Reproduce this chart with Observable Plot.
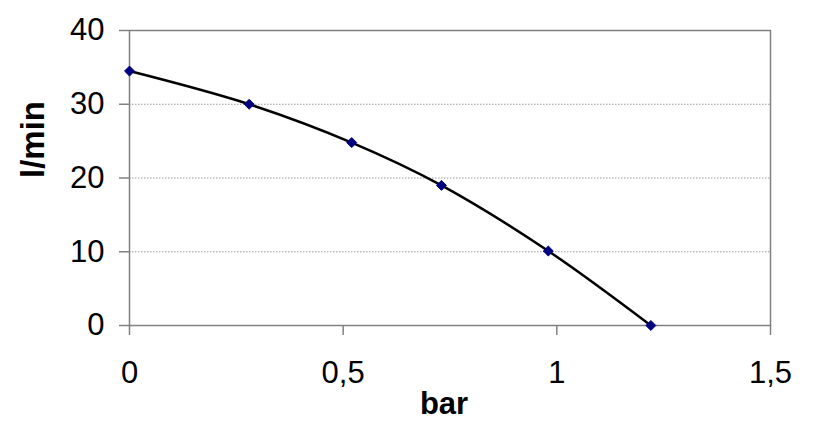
<!DOCTYPE html>
<html>
<head>
<meta charset="utf-8">
<script src="https://cdn.jsdelivr.net/npm/d3@7"></script>
<script src="https://cdn.jsdelivr.net/npm/@observablehq/plot@0.6"></script>
<style>
  html, body { margin: 0; padding: 0; background: #fff; }
  #chart { width: 818px; height: 428px; }
</style>
</head>
<body>
<div id="chart"></div>
<script>
const pressureBar = [0, 0.28, 0.52, 0.73, 0.98, 1.22];
const flowLmin = [34.5, 30, 24.8, 19, 10.1, 0];
const xTicks = [0, 0.5, 1, 1.5];
const yTicks = [0, 10, 20, 30, 40];
const gridTicks = [10, 20, 30];
const xLabel = "bar";
const yLabel = "l/min";

const data = pressureBar.map((x, i) => ({x, y: flowLmin[i]}));
const fmt = d => String(d).replace(".", ",");
const font = "'Liberation Sans', Arial, sans-serif";

const chart = Plot.plot({
  width: 818,
  height: 428,
  marginLeft: 129,
  marginRight: 48,
  marginTop: 30,
  marginBottom: 103,
  style: {fontFamily: font, background: "#fff", overflow: "visible"},
  x: {domain: [0, 1.5]},
  y: {domain: [0, 40]},
  marks: [
    Plot.gridY(gridTicks, {stroke: "#9a9a9a", strokeOpacity: 1, strokeDasharray: "1.5,1.5", strokeWidth: 1}),
    Plot.frame({stroke: "#808080", strokeWidth: 1.5}),
    Plot.axisY(yTicks, {tickSize: 10, tickPadding: 15, fontSize: 31, tickFormat: fmt, stroke: "#808080", strokeWidth: 1.5, fill: "#000", label: null}),
    Plot.axisX(xTicks, {tickSize: 10, tickPadding: 25, fontSize: 31, tickFormat: fmt, stroke: "#808080", strokeWidth: 1.5, fill: "#000", label: null}),
    Plot.line(data, {x: "x", y: "y", curve: "catmull-rom", stroke: "#000", strokeWidth: 2.5}),
    Plot.dot(data, {x: "x", y: "y", symbol: "diamond2", r: 4.5, fill: "#000080", stroke: "#000080", strokeWidth: 1}),
    Plot.text([yLabel], {frameAnchor: "left", dx: -96, rotate: -90, fontSize: 33, fontWeight: "bold", fill: "#000"}),
    Plot.text([xLabel], {frameAnchor: "bottom", dy: 88, dx: -6, fontSize: 31, fontWeight: "bold", fill: "#000"})
  ]
});
document.getElementById("chart").appendChild(chart);
</script>
</body>
</html>
